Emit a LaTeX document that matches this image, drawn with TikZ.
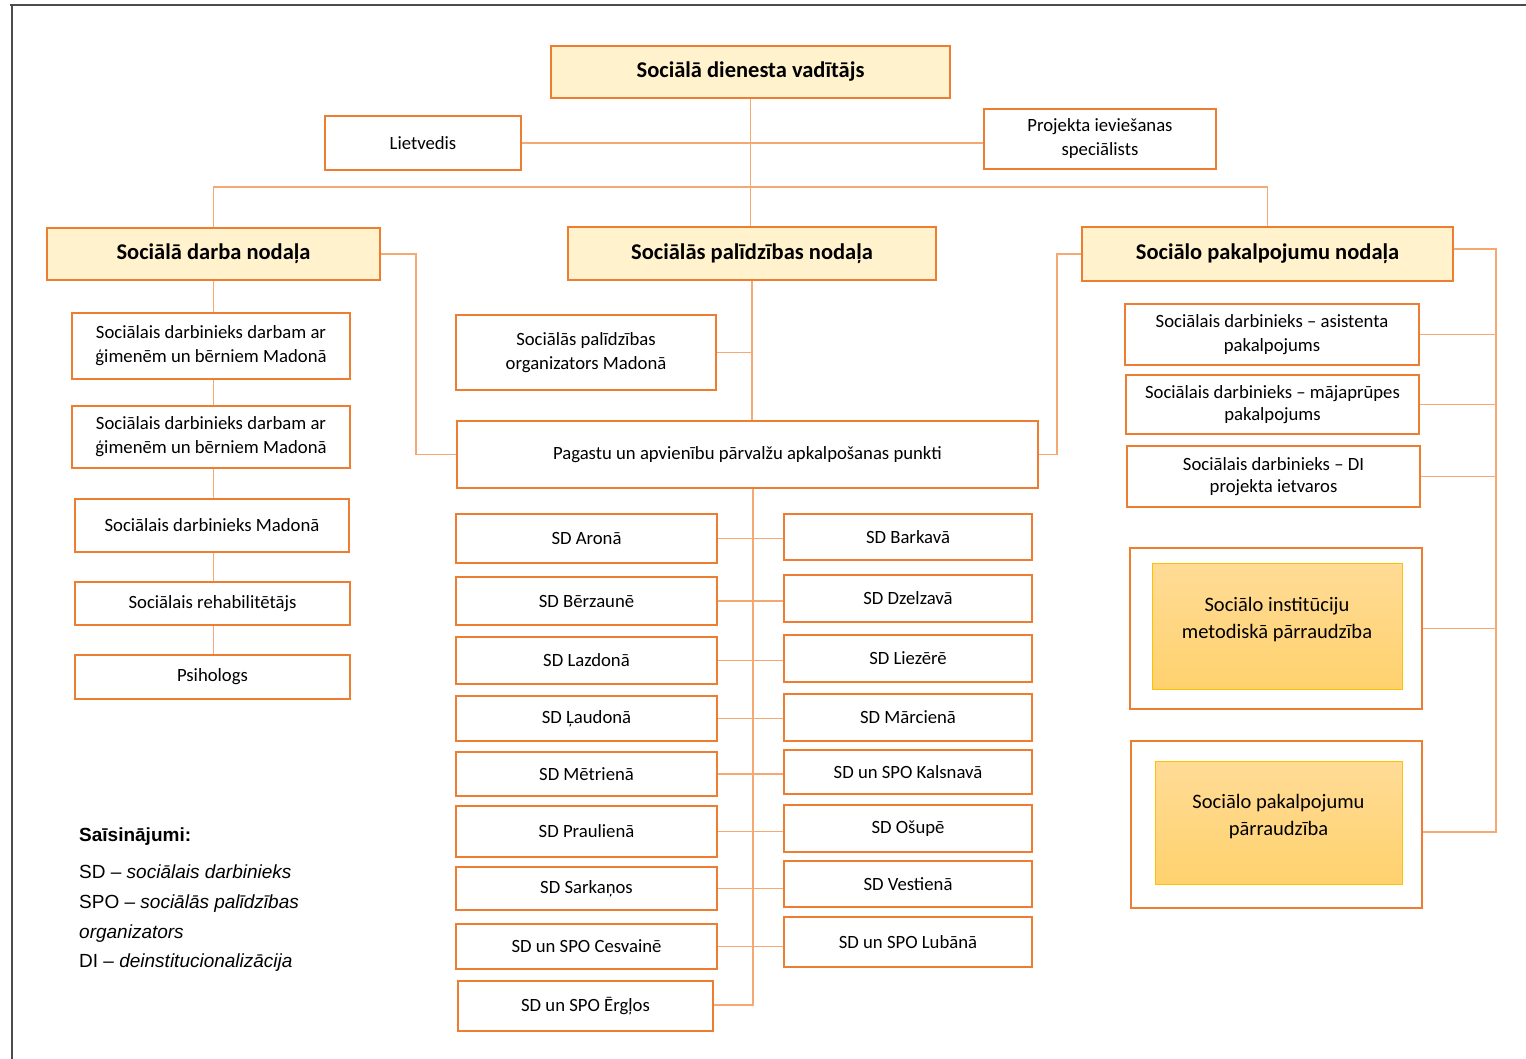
\documentclass[tikz,border=0pt]{standalone}
\usepackage{fontspec}
\setmainfont{Carlito}
\newfontfamily\legendfont{Liberation Sans}
\usetikzlibrary{calc}

\definecolor{boxorange}{HTML}{ED7D31}
\definecolor{linkorange}{HTML}{F4A872}
\definecolor{headfill}{HTML}{FFF2CC}
\definecolor{goldtop}{HTML}{FFDB96}
\definecolor{goldbot}{HTML}{FFD26E}
\definecolor{goldline}{HTML}{FFC000}

\begin{document}
\begin{tikzpicture}[x=1pt, y=-1pt,
                    box/.style={draw=boxorange, line width=2, fill=white, inner sep=0, align=center,
                                font=\fontsize{18.7}{24}\selectfont},
                    head box/.style={box, fill=headfill, font=\fontsize{22.5}{27}\selectfont\bfseries},
                    gold box/.style={draw=goldline, line width=1, top color=goldtop, bottom color=goldbot,
                                     inner sep=0, align=center, text depth=16pt, font=\fontsize{20.5}{27}\selectfont},
                    legend text/.style={anchor=base west, inner sep=0, font=\legendfont\fontsize{19}{23}\selectfont},
                    link/.style={draw=linkorange, line width=1.3},
                    frame/.style={draw=black!70, line width=1.5}]

  \useasboundingbox (0,0) rectangle (1526,1059);
  \draw[frame] (10,5) -- (1526,5);
  \draw[frame] (12,5) -- (12,1059);

  \node[head box, minimum width=399, minimum height=52] (head) at (750.5,72) {Sociālā dienesta vadītājs};
  \node[box, minimum width=196, minimum height=54] (lietv) at (423,143) {Lietvedis};
  \node[box, minimum width=232, minimum height=60] (proj) at (1100,139) {Projekta ieviešanas\\speciālists};

  \node[head box, minimum width=333, minimum height=52] (darbnod) at (213.5,254) {Sociālā darba nodaļa};
  \node[head box, minimum width=368, minimum height=53] (palnod) at (752,253.5) {Sociālās palīdzības nodaļa};
  \node[head box, minimum width=371, minimum height=54] (pakalnod) at (1267.5,254) {Sociālo pakalpojumu nodaļa};

  \node[box, minimum width=278, minimum height=66] (gim1) at (211,346) {Sociālais darbinieks darbam ar\\ģimenēm un bērniem Madonā};
  \node[box, minimum width=278, minimum height=62] (gim2) at (211,437) {Sociālais darbinieks darbam ar\\ģimenēm un bērniem Madonā};
  \node[box, minimum width=274, minimum height=53] (madona) at (212,525.5) {Sociālais darbinieks Madonā};
  \node[box, minimum width=275, minimum height=43] (rehab) at (212.5,603.5) {Sociālais rehabilitētājs};
  \node[box, minimum width=275, minimum height=44] (psih) at (212.5,677) {Psihologs};

  \node[box, minimum width=260, minimum height=75] (spo) at (586,352.5) {Sociālās palīdzības\\organizators Madonā};
  \node[box, minimum width=581, minimum height=67] (pag) at (747.5,454.5) {Pagastu un apvienību pārvalžu apkalpošanas punkti};

  \foreach \n/\y/\h/\t in {aro/538.5/49/SD Aronā, ber/601/48/SD Bērzaunē, laz/660.5/47/SD Lazdonā,
                           lau/718.5/45/SD Ļaudonā, met/774/44/SD Mētrienā, pra/831.5/51/SD Praulienā,
                           sar/888.5/43/SD Sarkaņos, ces/946.5/45/SD un SPO Cesvainē}
    \node[box, minimum width=261, minimum height=\h] (\n) at (586.5,\y) {\t};
  \node[box, minimum width=255, minimum height=50] (erg) at (585.5,1006) {SD un SPO Ērgļos};

  \foreach \n/\y/\h/\t in {bar/537/46/SD Barkavā, dze/598.5/47/SD Dzelzavā, lie/658.5/47/SD Liezērē,
                           mar/717.5/47/SD Mārcienā, kal/772/44/SD un SPO Kalsnavā, osu/828.5/47/SD Ošupē,
                           ves/884/46/SD Vestienā, lub/942/50/SD un SPO Lubānā}
    \node[box, minimum width=248, minimum height=\h] (\n) at (908,\y) {\t};

  \node[box, minimum width=294, minimum height=61] (asist) at (1272,334.5) {Sociālais darbinieks – asistenta\\pakalpojums};
  \node[box, minimum width=293, minimum height=59, font=\fontsize{18.7}{22}\selectfont] (maja) at (1272.5,404.5) {Sociālais darbinieks – mājaprūpes\\pakalpojums};
  \node[box, minimum width=293, minimum height=61, font=\fontsize{18.7}{22}\selectfont] (di) at (1273.5,476.5) {Sociālais darbinieks – DI\\projekta ietvaros};

  \node[box, minimum width=292, minimum height=161] (instout) at (1276,628.5) {};
  \node[gold box, minimum width=250, minimum height=126] (inst) at (1277,626) {Sociālo institūciju\\metodiskā pārraudzība};
  \node[box, minimum width=291, minimum height=167] (parrout) at (1276.5,824.5) {};
  \node[gold box, minimum width=247, minimum height=123] (parr) at (1278.5,822.5) {Sociālo pakalpojumu\\pārraudzība};

  \node[legend text, font=\legendfont\bfseries\fontsize{19}{23}\selectfont] (legtitle) at (79,841) {Saīsinājumi:};
  \node[legend text] (leg1) at (79,878) {SD – \textit{sociālais darbinieks}};
  \node[legend text] (leg2) at (79,908) {SPO – \textit{sociālās palīdzības}};
  \node[legend text] (leg3) at (79,938) {\textit{organizators}};
  \node[legend text] (leg4) at (79,967) {DI – \textit{deinstitucionalizācija}};

  \coordinate (bus) at (750,187);
  \coordinate (trunk) at (753,1005);
  \coordinate (railtop) at (1496,249);
  \coordinate (railbot) at (1496,832);

  \draw[link] (lietv.east) -- (lietv.east -| proj.west);
  \draw[link] (head.south) -- (head.south |- palnod.north);
  \draw[link] (darbnod.north) -- (darbnod.north |- bus) -- (pakalnod.north |- bus) -- (pakalnod.north);

  \draw[link] (darbnod.south) -- (darbnod.south |- gim1.north);
  \foreach \a/\b in {gim1/gim2, gim2/madona, madona/rehab, rehab/psih}
    \draw[link] (\a.south -| darbnod.south) -- (\b.north -| darbnod.south);

  \draw[link] (darbnod.east) -- ++(35,0) |- (pag.west);
  \draw[link] (pakalnod.west) -- ++(-24,0) |- (pag.east);
  \draw[link] (palnod.south) -- (palnod.south |- pag.north);
  \draw[link] (spo.east) -- (spo.east -| palnod.south);

  \draw[link] (pag.south -| trunk) -- (trunk) -- (trunk -| erg.east);
  \foreach \a/\b in {aro/bar, ber/dze, laz/lie, lau/mar, met/kal, pra/osu, sar/ves, ces/lub}
    \draw[link] (\a.east) -- (\a.east -| \b.west);

  \draw[link] (pakalnod.east |- railtop) -- (railtop) -- (railbot) -- (railbot -| parrout.east);
  \foreach \a in {asist, maja, di, instout}
    \draw[link] (\a.east) -- (\a.east -| railtop);

\end{tikzpicture}
\end{document}
